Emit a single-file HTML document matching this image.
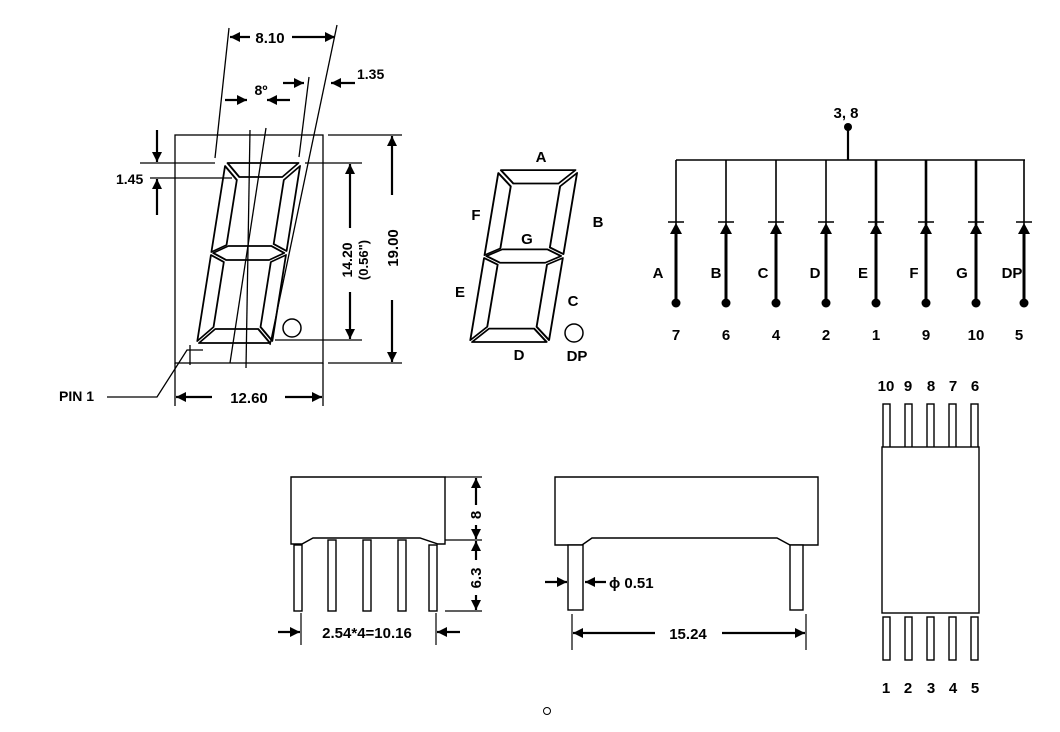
<!DOCTYPE html>
<html><head><meta charset="utf-8"><style>
html,body{margin:0;padding:0;background:#fff;}
svg{display:block;}
text{font-family:"Liberation Sans",sans-serif;font-weight:bold;font-size:15px;fill:#000;}
</style></head><body>
<svg width="1060" height="732" viewBox="0 0 1060 732" xmlns="http://www.w3.org/2000/svg">
<defs>
<marker id="ah" viewBox="0 0 10 10" refX="10" refY="5" markerWidth="14" markerHeight="10" markerUnits="userSpaceOnUse" orient="auto"><path d="M0,0 L10,5 L0,10 Z" fill="#000"/></marker>
<g id="digit" fill="#fff" stroke="#000" stroke-width="1.8" stroke-linejoin="round">
<polygon points="2,-180 73,-180 59,-166 16,-166"/>
<polygon points="0,-177 14,-163 14,-98 0,-91"/>
<polygon points="75,-177 75,-92 61,-99 61,-163"/>
<polygon points="2,-90 16,-97 59,-97 73,-90 59,-83 16,-83"/>
<polygon points="0,-88 14,-81 14,-16 0,-2"/>
<polygon points="75,-88 75,-2 61,-16 61,-81"/>
<polygon points="2,0 73,0 59,-14 16,-14"/>
</g>
</defs>

<!-- LEFT FRONT VIEW -->
<g stroke="#000" stroke-width="1.3" fill="none">
<rect x="175" y="135" width="148" height="228"/>
</g>
<use href="#digit" transform="translate(197,343) skewX(-9)"/>
<circle cx="292" cy="328" r="9" fill="#fff" stroke="#000" stroke-width="1.5"/>
<g stroke="#000" stroke-width="1.3" fill="none">
<line x1="215" y1="158" x2="229" y2="28"/>
<line x1="270" y1="345" x2="337" y2="25"/>
<line x1="299" y1="157" x2="309" y2="77"/>
<line x1="250" y1="130" x2="246" y2="368"/>
<line x1="266" y1="128" x2="230" y2="363"/>
<line x1="140" y1="163" x2="215" y2="163"/>
<line x1="150" y1="178" x2="232" y2="178"/>
<line x1="305" y1="163" x2="362" y2="163"/>
<line x1="275" y1="340" x2="362" y2="340"/>
<line x1="328" y1="135" x2="402" y2="135"/>
<line x1="328" y1="363" x2="402" y2="363"/>
<line x1="175" y1="363" x2="175" y2="406"/>
<line x1="323" y1="363" x2="323" y2="406"/>
<polyline points="107,397 157,397 187,350 203,350"/>
<line x1="190" y1="345" x2="190" y2="365"/>
</g>
<g stroke="#000" stroke-width="2.2" fill="none" marker-end="url(#ah)">
<line x1="250" y1="37" x2="230" y2="37"/>
<line x1="292" y1="37" x2="335" y2="37"/>
<line x1="225" y1="100" x2="247" y2="100"/>
<line x1="290" y1="100" x2="267" y2="100"/>
<line x1="283" y1="83" x2="304" y2="83"/>
<line x1="355" y1="83" x2="331" y2="83"/>
<line x1="157" y1="130" x2="157" y2="162"/>
<line x1="157" y1="215" x2="157" y2="179"/>
<line x1="350" y1="228" x2="350" y2="164"/>
<line x1="350" y1="292" x2="350" y2="339"/>
<line x1="392" y1="195" x2="392" y2="136"/>
<line x1="392" y1="300" x2="392" y2="362"/>
<line x1="212" y1="397" x2="176" y2="397"/>
<line x1="285" y1="397" x2="322" y2="397"/>
</g>
<text x="270" y="43" text-anchor="middle">8.10</text>
<text x="261" y="95" text-anchor="middle" style="font-size:14px">8º</text>
<text x="357" y="79" style="font-size:14px">1.35</text>
<text x="116" y="184" style="font-size:14px">1.45</text>
<text x="249" y="403" text-anchor="middle">12.60</text>
<text x="59" y="401" style="font-size:14px">PIN 1</text>
<text transform="translate(352,260) rotate(-90)" text-anchor="middle" style="font-size:14px">14.20</text>
<text transform="translate(368,260) rotate(-90)" text-anchor="middle" style="font-size:13px">(0.56")</text>
<text transform="translate(398,248) rotate(-90)" text-anchor="middle">19.00</text>

<!-- MIDDLE SEGMENT LABEL VIEW -->
<use href="#digit" transform="translate(470,342) skewX(-9.5) scale(1.05,0.955)"/>
<circle cx="574" cy="333" r="9" fill="#fff" stroke="#000" stroke-width="1.5"/>
<text x="541" y="162" text-anchor="middle">A</text>
<text x="476" y="220" text-anchor="middle">F</text>
<text x="598" y="227" text-anchor="middle">B</text>
<text x="527" y="244" text-anchor="middle">G</text>
<text x="460" y="297" text-anchor="middle">E</text>
<text x="573" y="306" text-anchor="middle">C</text>
<text x="519" y="360" text-anchor="middle">D</text>
<text x="577" y="361" text-anchor="middle">DP</text>

<!-- CIRCUIT -->
<g stroke="#000" fill="none">
<line x1="676" y1="160" x2="1025" y2="160" stroke-width="1.6"/>
<line x1="848" y1="127" x2="848" y2="160" stroke-width="2.2"/>
</g>
<circle cx="848" cy="127" r="4" fill="#000"/>
<text x="846" y="118" text-anchor="middle">3, 8</text>
<g stroke="#000" fill="#000">
<g transform="translate(676,0)"><line x1="0" y1="160" x2="0" y2="225" stroke-width="1.6"/><line x1="-8" y1="222" x2="8" y2="222" stroke-width="1.5"/><polygon points="-6,234 6,234 0,223" stroke="none"/><line x1="0" y1="233" x2="0" y2="303" stroke-width="3"/><circle cx="0" cy="303" r="4.5" stroke="none"/></g>
<g transform="translate(726,0)"><line x1="0" y1="160" x2="0" y2="225" stroke-width="1.6"/><line x1="-8" y1="222" x2="8" y2="222" stroke-width="1.5"/><polygon points="-6,234 6,234 0,223" stroke="none"/><line x1="0" y1="233" x2="0" y2="303" stroke-width="3"/><circle cx="0" cy="303" r="4.5" stroke="none"/></g>
<g transform="translate(776,0)"><line x1="0" y1="160" x2="0" y2="225" stroke-width="1.6"/><line x1="-8" y1="222" x2="8" y2="222" stroke-width="1.5"/><polygon points="-6,234 6,234 0,223" stroke="none"/><line x1="0" y1="233" x2="0" y2="303" stroke-width="3"/><circle cx="0" cy="303" r="4.5" stroke="none"/></g>
<g transform="translate(826,0)"><line x1="0" y1="160" x2="0" y2="225" stroke-width="1.6"/><line x1="-8" y1="222" x2="8" y2="222" stroke-width="1.5"/><polygon points="-6,234 6,234 0,223" stroke="none"/><line x1="0" y1="233" x2="0" y2="303" stroke-width="3"/><circle cx="0" cy="303" r="4.5" stroke="none"/></g>
<g transform="translate(876,0)"><line x1="0" y1="160" x2="0" y2="225" stroke-width="2.6"/><line x1="-8" y1="222" x2="8" y2="222" stroke-width="1.5"/><polygon points="-6,234 6,234 0,223" stroke="none"/><line x1="0" y1="233" x2="0" y2="303" stroke-width="3"/><circle cx="0" cy="303" r="4.5" stroke="none"/></g>
<g transform="translate(926,0)"><line x1="0" y1="160" x2="0" y2="225" stroke-width="2.6"/><line x1="-8" y1="222" x2="8" y2="222" stroke-width="1.5"/><polygon points="-6,234 6,234 0,223" stroke="none"/><line x1="0" y1="233" x2="0" y2="303" stroke-width="3"/><circle cx="0" cy="303" r="4.5" stroke="none"/></g>
<g transform="translate(976,0)"><line x1="0" y1="160" x2="0" y2="225" stroke-width="2.6"/><line x1="-8" y1="222" x2="8" y2="222" stroke-width="1.5"/><polygon points="-6,234 6,234 0,223" stroke="none"/><line x1="0" y1="233" x2="0" y2="303" stroke-width="3"/><circle cx="0" cy="303" r="4.5" stroke="none"/></g>
<g transform="translate(1024,0)"><line x1="0" y1="160" x2="0" y2="225" stroke-width="1.6"/><line x1="-8" y1="222" x2="8" y2="222" stroke-width="1.5"/><polygon points="-6,234 6,234 0,223" stroke="none"/><line x1="0" y1="233" x2="0" y2="303" stroke-width="3"/><circle cx="0" cy="303" r="4.5" stroke="none"/></g>
</g>
<g text-anchor="middle">
<text x="658" y="278">A</text><text x="716" y="278">B</text><text x="763" y="278">C</text><text x="815" y="278">D</text>
<text x="863" y="278">E</text><text x="914" y="278">F</text><text x="962" y="278">G</text><text x="1012" y="278">DP</text>
<text x="676" y="340">7</text><text x="726" y="340">6</text><text x="776" y="340">4</text><text x="826" y="340">2</text>
<text x="876" y="340">1</text><text x="926" y="340">9</text><text x="976" y="340">10</text><text x="1019" y="340">5</text>
</g>

<!-- RIGHT PIN VIEW -->
<g stroke="#000" stroke-width="1.4" fill="#fff">
<rect x="883" y="404" width="7" height="45"/><rect x="905" y="404" width="7" height="45"/><rect x="927" y="404" width="7" height="45"/><rect x="949" y="404" width="7" height="45"/><rect x="971" y="404" width="7" height="45"/>
<rect x="882" y="447" width="97" height="166"/>
<rect x="883" y="617" width="7" height="43"/><rect x="905" y="617" width="7" height="43"/><rect x="927" y="617" width="7" height="43"/><rect x="949" y="617" width="7" height="43"/><rect x="971" y="617" width="7" height="43"/>
</g>
<g text-anchor="middle">
<text x="886" y="391">10</text><text x="908" y="391">9</text><text x="931" y="391">8</text><text x="953" y="391">7</text><text x="975" y="391">6</text>
<text x="886" y="693">1</text><text x="908" y="693">2</text><text x="931" y="693">3</text><text x="953" y="693">4</text><text x="975" y="693">5</text>
</g>

<!-- BOTTOM LEFT SIDE VIEW -->
<g stroke="#000" stroke-width="1.4" fill="#fff">
<path d="M291 477 H445 V544 H438 L420 538 H313 L302 544 H291 Z"/>
<rect x="294" y="545" width="8" height="66"/><rect x="328" y="540" width="8" height="71"/><rect x="363" y="540" width="8" height="71"/><rect x="398" y="540" width="8" height="71"/><rect x="429" y="545" width="8" height="66"/>
</g>
<g stroke="#000" stroke-width="1.2" fill="none">
<line x1="445" y1="477" x2="482" y2="477"/><line x1="445" y1="540" x2="482" y2="540"/><line x1="445" y1="611" x2="482" y2="611"/>
<line x1="301" y1="613" x2="301" y2="645"/><line x1="436" y1="613" x2="436" y2="645"/>
</g>
<g stroke="#000" stroke-width="2.2" fill="none" marker-end="url(#ah)">
<line x1="476" y1="505" x2="476" y2="478"/>
<line x1="476" y1="525" x2="476" y2="539"/>
<line x1="476" y1="560" x2="476" y2="541"/>
<line x1="476" y1="595" x2="476" y2="610"/>
<line x1="278" y1="632" x2="300" y2="632"/>
<line x1="460" y1="632" x2="437" y2="632"/>
</g>
<text transform="translate(481,515) rotate(-90)" text-anchor="middle">8</text>
<text transform="translate(481,578) rotate(-90)" text-anchor="middle">6.3</text>
<text x="367" y="638" text-anchor="middle">2.54*4=10.16</text>

<!-- BOTTOM MIDDLE SIDE VIEW -->
<g stroke="#000" stroke-width="1.4" fill="#fff">
<path d="M555 477 H818 V545 H790 L777 538 H592 L582 545 H555 Z"/>
<rect x="568" y="545" width="15" height="65"/>
<rect x="790" y="545" width="13" height="65"/>
</g>
<g stroke="#000" stroke-width="1.2"><line x1="572" y1="614" x2="572" y2="650"/><line x1="806" y1="614" x2="806" y2="650"/></g>
<g stroke="#000" stroke-width="2.2" fill="none" marker-end="url(#ah)">
<line x1="545" y1="582" x2="567" y2="582"/>
<line x1="606" y1="582" x2="585" y2="582"/>
<line x1="655" y1="633" x2="573" y2="633"/>
<line x1="722" y1="633" x2="805" y2="633"/>
</g>
<text x="609" y="588">ϕ 0.51</text>
<text x="688" y="639" text-anchor="middle">15.24</text>

<circle cx="547" cy="711" r="3.5" fill="none" stroke="#000" stroke-width="1"/>
</svg>
</body></html>
